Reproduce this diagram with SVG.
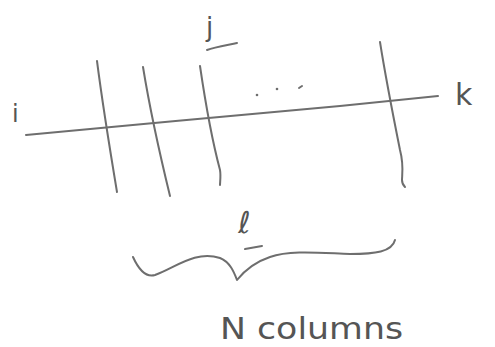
<svg xmlns="http://www.w3.org/2000/svg" width="495" height="347" viewBox="0 0 495 347">
<style>
.s{fill:none;stroke:#6e6e6e;stroke-width:2;stroke-linecap:round;stroke-linejoin:round}
.t{font-family:"DejaVu Sans","Liberation Sans",sans-serif;fill:#555;}
</style>
<rect width="495" height="347" fill="#fff"/>
<g id="connectors">
<path class="s" d="M26,135 C120,126 250,114 340,106 C390,101 420,98 438,96"/>
</g>
<g id="col1"><path class="s" d="M97,61 C102,100 110,150 117,192"/></g>
<g id="col2"><path class="s" d="M143,67 C150,110 160,155 170,196"/></g>
<g id="col3"><path class="s" d="M200,66 C205,100 212,140 220,170 C221,176 220,182 220,185"/></g>
<g id="col4"><path class="s" d="M380,42 C386,80 394,120 400,150 C404,165 402,175 402,180 C402,184 404,186 405,187"/></g>
<g id="dots">
<circle cx="257" cy="95" r="1.3" fill="#6e6e6e"/>
<circle cx="277" cy="89" r="1.3" fill="#6e6e6e"/>
<path class="s" d="M299,88 L302,86"/>
</g>
<g id="label-i"><text class="t" x="12" y="122" font-size="24">i</text></g>
<g id="label-j">
<text class="t" x="206" y="36" font-size="26">j</text>
<path class="s" d="M207,50 C215,47 228,45 237,43"/>
</g>
<g id="label-k"><text class="t" x="455" y="105" font-size="30">k</text></g>
<g id="brace">
<text class="t" x="238" y="233" font-size="30" font-style="italic">ℓ</text>
<path class="s" d="M245,249 L262,246"/>
<path class="s" d="M133,257 C138,268 145,278 155,275 C175,268 195,250 220,258 C230,262 234,272 237,280 C245,270 255,262 270,257 C290,250 320,253 350,254 C375,254 392,252 395,240"/>
</g>
<g id="label-n"><text class="t" x="220" y="339" font-size="30" textLength="183" lengthAdjust="spacingAndGlyphs">N columns</text></g>
</svg>
